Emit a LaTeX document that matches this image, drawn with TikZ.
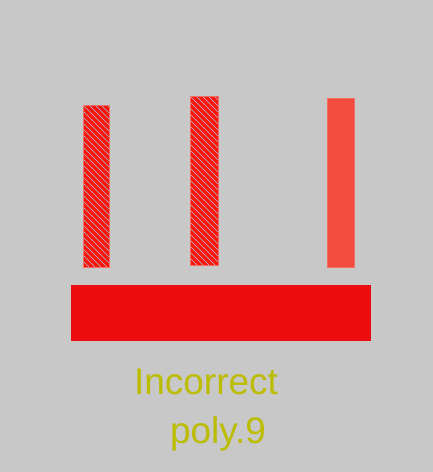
\documentclass[tikz,border=0pt]{standalone}
\usepackage{fontspec}
\setmainfont{Liberation Sans}
\definecolor{bg}{RGB}{200,200,200}
\definecolor{barred}{RGB}{236,14,14}
\definecolor{hatchred}{RGB}{250,20,10}
\definecolor{hatchline}{RGB}{170,195,225}
\definecolor{lightred}{RGB}{242,76,62}
\definecolor{edgered}{RGB}{245,110,100}
\definecolor{olive}{RGB}{188,188,0}
\begin{document}
\begin{tikzpicture}[x=1pt,y=-1pt,
  hatchbox/.style={fill=hatchred,draw=edgered,line width=0.8pt},
  plainbox/.style={fill=lightred,draw=edgered,line width=0.8pt},
  label/.style={text=olive,font=\fontsize{37}{40}\selectfont,inner sep=0pt,anchor=base}]
\fill[bg] (0,0) rectangle (433,472);
\useasboundingbox (0,0) rectangle (433,472);
% hatched bars
\foreach \n/\xa/\ya/\xb/\yb in {h1/83/105/109/267, h2/190/96/218/265}{
  \path[hatchbox] (\xa,\ya) rectangle (\xb,\yb);
  \begin{scope}
    \clip (\xa,\ya) rectangle (\xb,\yb);
    \foreach \k in {-40,...,10}{
      \draw[hatchline,line width=0.6pt] (\xa+6*\k,\ya) -- ++(200,200);
    }
  \end{scope}
  \draw[edgered,line width=0.8pt] (\xa,\ya) rectangle (\xb,\yb);
  \node[coordinate] (\n) at (\xa,\ya) {};
}
\node[plainbox,minimum width=27pt,minimum height=169pt,inner sep=0pt,anchor=north west] (p1) at (327,98) {};
\node[fill=barred,minimum width=300pt,minimum height=56pt,inner sep=0pt,anchor=north west] (bar) at (71,285) {};
\node[label] (t1) at (206,394) {Incorrect};
\node[label] (t2) at (218,443) {poly.9};
\end{tikzpicture}
\end{document}
